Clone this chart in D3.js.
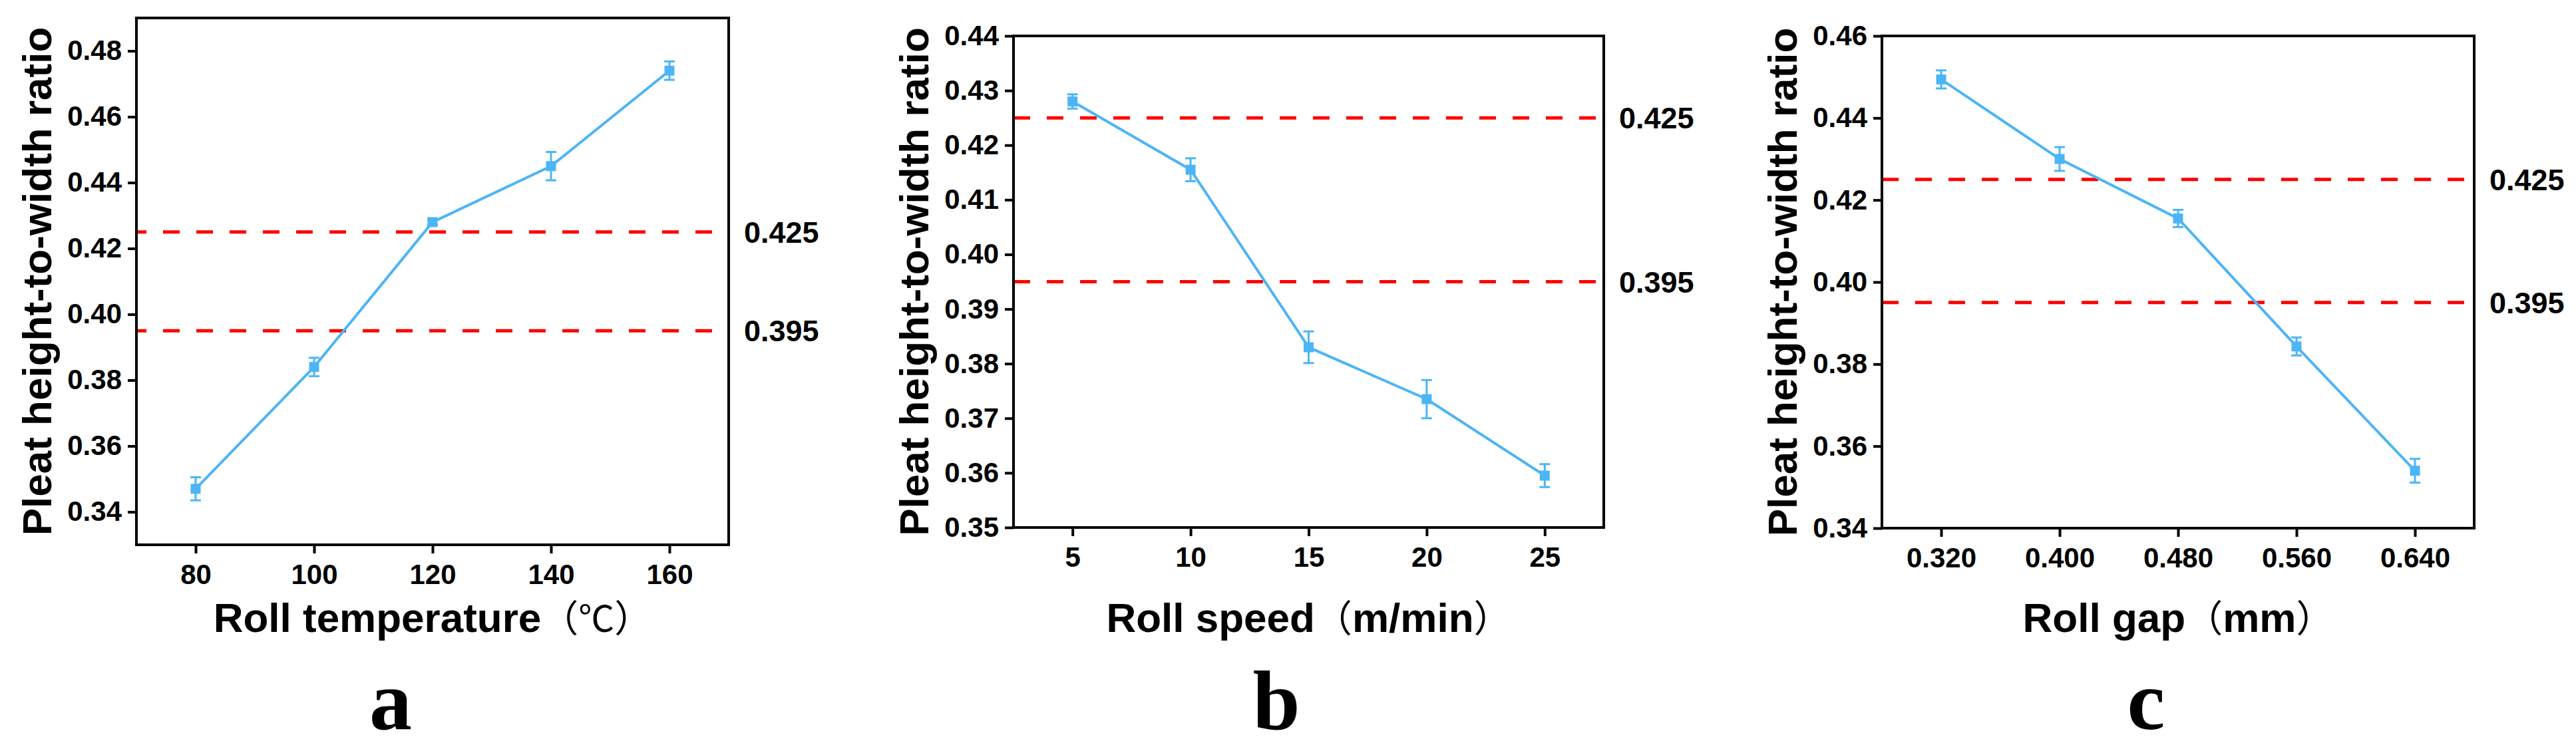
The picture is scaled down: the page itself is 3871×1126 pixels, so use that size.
<!DOCTYPE html>
<html>
<head>
<meta charset="utf-8">
<script src="https://cdn.jsdelivr.net/npm/d3@7"></script>
<style>
  body { margin: 0; background: #fff; }
  svg { display: block; }
</style>
</head>
<body>
<div id="chart"></div>
<script>
// values
const tempX = [80, 100, 120, 140, 160];
const tempRatio = [0.347, 0.384, 0.428, 0.445, 0.474];
const tempErr = [0.0035, 0.0028, 0.0008, 0.0043, 0.0028];

const speedX = [5, 10, 15, 20, 25];
const speedRatio = [0.428, 0.4155, 0.383, 0.3735, 0.3595];
const speedErr = [0.0013, 0.0021, 0.0029, 0.0035, 0.0021];

const gapX = [0.32, 0.40, 0.48, 0.56, 0.64];
const gapRatio = [0.4494, 0.430, 0.4155, 0.3843, 0.354];
const gapErr = [0.0022, 0.0029, 0.0021, 0.0022, 0.0029];

const thresholds = [0.425, 0.395];

const tempYTicks = [0.34, 0.36, 0.38, 0.40, 0.42, 0.44, 0.46, 0.48];
const speedYTicks = [0.35, 0.36, 0.37, 0.38, 0.39, 0.40, 0.41, 0.42, 0.43, 0.44];
const gapYTicks = [0.34, 0.36, 0.38, 0.40, 0.42, 0.44, 0.46];

const yTitle = "Pleat height-to-width ratio";

const width = 3871;
const height = 1126;
const lineColor = "#4cb5f5";
const sans = "'Liberation Sans', Arial, sans-serif";
const cjk = "'Noto Sans CJK SC', sans-serif";

const svg = d3.select("#chart")
  .append("svg")
  .attr("width", width)
  .attr("height", height);

const panels = [
  {
    box: { left: 205, right: 1095, top: 27, bottom: 819 },
    xDomain: [70, 170], yDomain: [0.33, 0.49],
    xs: tempX, ys: tempRatio, errs: tempErr,
    xTicks: tempX, xFmt: d3.format("d"),
    yTicks: tempYTicks, yFmt: d3.format(".2f"),
    title: "Roll temperature", unit: "℃", unitBold: false,
    letter: "a", letterX: 587, dashOffset: 10
  },
  {
    box: { left: 1523, right: 2410, top: 54, bottom: 793 },
    xDomain: [2.5, 27.5], yDomain: [0.35, 0.44],
    xs: speedX, ys: speedRatio, errs: speedErr,
    xTicks: speedX, xFmt: d3.format("d"),
    yTicks: speedYTicks, yFmt: d3.format(".2f"),
    title: "Roll speed", unit: "m/min", unitBold: true,
    letter: "b", letterX: 1918, dashOffset: 0
  },
  {
    box: { left: 2828, right: 3718, top: 54, bottom: 794 },
    xDomain: [0.28, 0.68], yDomain: [0.34, 0.46],
    xs: gapX, ys: gapRatio, errs: gapErr,
    xTicks: gapX, xFmt: d3.format(".3f"),
    yTicks: gapYTicks, yFmt: d3.format(".2f"),
    title: "Roll gap", unit: "mm", unitBold: true,
    letter: "c", letterX: 3225, dashOffset: 0
  }
];

panels.forEach(drawPanel);

function drawPanel(p) {
  const b = p.box;
  const g = svg.append("g");

  const x = d3.scaleLinear().domain(p.xDomain).range([b.left, b.right]);
  const y = d3.scaleLinear().domain(p.yDomain).range([b.bottom, b.top]);

  const pts = p.xs.map((v, i) => ({ x: v, y: p.ys[i], e: p.errs[i] }));

  // threshold lines
  g.selectAll(".thr")
    .data(thresholds)
    .join("line")
    .attr("x1", b.left)
    .attr("x2", b.right)
    .attr("y1", d => y(d))
    .attr("y2", d => y(d))
    .attr("stroke", "#ff0000")
    .attr("stroke-width", 5)
    .attr("stroke-dasharray", "25 25")
    .attr("stroke-dashoffset", p.dashOffset);

  g.selectAll(".thr-label")
    .data(thresholds)
    .join("text")
    .attr("x", b.right + 23)
    .attr("y", d => y(d) + 16)
    .attr("font-family", sans)
    .attr("font-weight", "bold")
    .attr("font-size", 45)
    .text(d => d3.format(".3f")(d));

  // axes
  const xAxis = g.append("g")
    .attr("transform", `translate(0,${b.bottom})`)
    .call(d3.axisBottom(x).tickValues(p.xTicks).tickFormat(p.xFmt)
      .tickSizeInner(13).tickSizeOuter(0).tickPadding(16));

  const yAxis = g.append("g")
    .attr("transform", `translate(${b.left},0)`)
    .call(d3.axisLeft(y).tickValues(p.yTicks).tickFormat(p.yFmt)
      .tickSizeInner(13).tickSizeOuter(0).tickPadding(9));

  [xAxis, yAxis].forEach(a => {
    a.select(".domain").remove();
    a.selectAll(".tick line").attr("stroke", "#000").attr("stroke-width", 4);
    a.selectAll(".tick text")
      .attr("fill", "#000")
      .attr("font-family", sans)
      .attr("font-weight", "bold")
      .attr("font-size", 42);
  });

  // frame
  g.append("rect")
    .attr("x", b.left)
    .attr("y", b.top)
    .attr("width", b.right - b.left)
    .attr("height", b.bottom - b.top)
    .attr("fill", "none")
    .attr("stroke", "#000")
    .attr("stroke-width", 4);

  // series line
  g.append("path")
    .datum(pts)
    .attr("fill", "none")
    .attr("stroke", lineColor)
    .attr("stroke-width", 4)
    .attr("d", d3.line().x(d => x(d.x)).y(d => y(d.y)));

  // error bars
  const eb = g.selectAll(".err")
    .data(pts)
    .join("g")
    .attr("stroke", lineColor)
    .attr("stroke-width", 3);

  eb.append("line")
    .attr("x1", d => x(d.x)).attr("x2", d => x(d.x))
    .attr("y1", d => y(d.y - d.e)).attr("y2", d => y(d.y + d.e));
  eb.append("line")
    .attr("x1", d => x(d.x) - 8).attr("x2", d => x(d.x) + 8)
    .attr("y1", d => y(d.y + d.e)).attr("y2", d => y(d.y + d.e));
  eb.append("line")
    .attr("x1", d => x(d.x) - 8).attr("x2", d => x(d.x) + 8)
    .attr("y1", d => y(d.y - d.e)).attr("y2", d => y(d.y - d.e));

  // square markers
  g.selectAll(".pt")
    .data(pts)
    .join("rect")
    .attr("x", d => x(d.x) - 7.5)
    .attr("y", d => y(d.y) - 7.5)
    .attr("width", 15)
    .attr("height", 15)
    .attr("fill", lineColor);

  // axis titles
  g.append("text")
    .attr("transform", `translate(${b.left - 128},${(b.top + b.bottom) / 2}) rotate(-90)`)
    .attr("text-anchor", "middle")
    .attr("font-family", sans)
    .attr("font-weight", "bold")
    .attr("font-size", 62)
    .text(yTitle);

  const xt = g.append("text")
    .attr("x", (b.left + b.right) / 2)
    .attr("y", 950)
    .attr("text-anchor", "middle")
    .attr("font-family", sans)
    .attr("font-weight", "bold")
    .attr("font-size", 62);
  xt.append("tspan").text(p.title);
  xt.append("tspan").attr("font-family", cjk).attr("font-weight", "normal").attr("font-size", 56).text("（");
  xt.append("tspan")
    .attr("font-family", p.unitBold ? sans : cjk)
    .attr("font-weight", p.unitBold ? "bold" : "normal")
    .attr("font-size", p.unitBold ? 62 : 54)
    .text(p.unit);
  xt.append("tspan").attr("font-family", cjk).attr("font-weight", "normal").attr("font-size", 56).text("）");

  // panel letter
  g.append("text")
    .attr("x", p.letterX)
    .attr("y", 1096)
    .attr("text-anchor", "middle")
    .attr("font-family", "'Liberation Serif', 'Times New Roman', serif")
    .attr("font-weight", "bold")
    .attr("font-size", 128)
    .text(p.letter);
}
</script>
</body>
</html>
